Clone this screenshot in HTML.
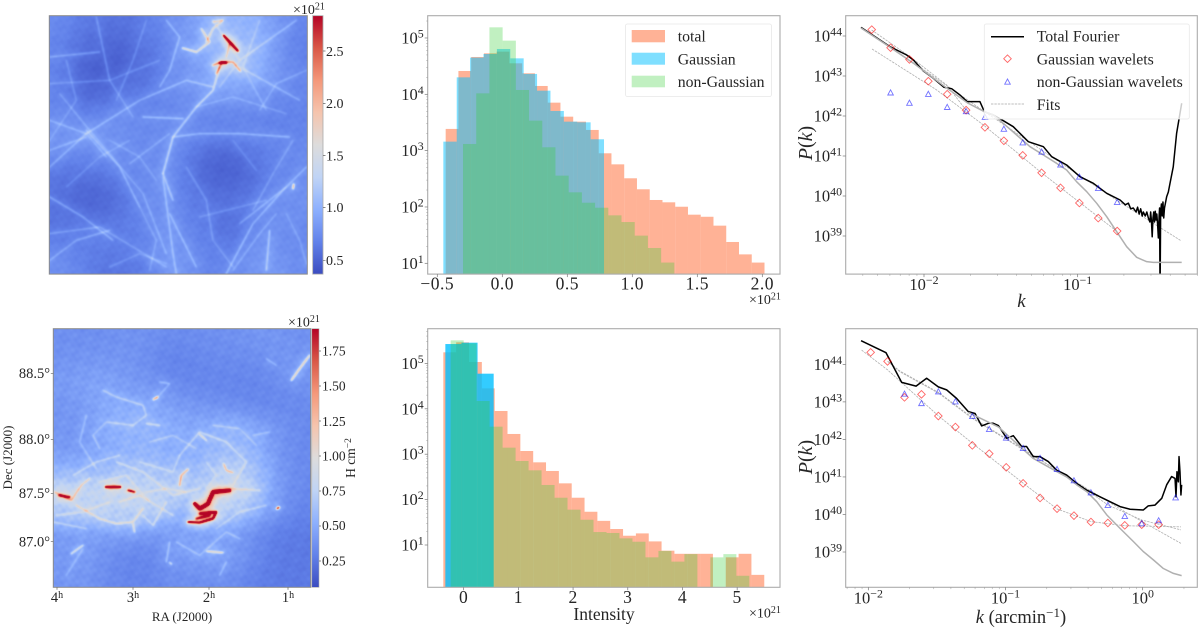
<!DOCTYPE html>
<html><head><meta charset="utf-8"><title>Column density maps, histograms and power spectra</title>
<style>
html,body{margin:0;padding:0;background:#fff;width:1200px;height:630px;overflow:hidden}
#stage{position:relative;width:1200px;height:630px}
canvas{position:absolute;display:block}
#chart{position:absolute;left:0;top:0}
text{font-family:"Liberation Serif",serif;fill:#262626}
</style></head>
<body>
<div id="stage">
<canvas id="mapTop" width="258" height="258" style="left:49.3px;top:15.7px;width:258px;height:258.4px"></canvas>
<canvas id="mapBot" width="258" height="258" style="left:53.3px;top:328.7px;width:257.4px;height:258.6px"></canvas>
<svg id="chart" width="1200" height="630" viewBox="0 0 1200 630" xmlns="http://www.w3.org/2000/svg">
<defs>
<linearGradient id="cw" x1="0" y1="1" x2="0" y2="0">
<stop offset="0" stop-color="#3b4cc0"/><stop offset=".125" stop-color="#6282ea"/><stop offset=".25" stop-color="#8db0fe"/><stop offset=".375" stop-color="#c0d4f5"/><stop offset=".5" stop-color="#dddcdc"/><stop offset=".625" stop-color="#f5c4ad"/><stop offset=".75" stop-color="#f4987a"/><stop offset=".875" stop-color="#d95847"/><stop offset="1" stop-color="#b40426"/>
</linearGradient>
<clipPath id="clipPkTop"><rect x="845.7" y="15.7" width="351.6" height="258.4"/></clipPath>
<clipPath id="clipPkBot"><rect x="845.7" y="328.7" width="351.6" height="258.6"/></clipPath>
</defs>
<rect x="49.3" y="15.7" width="258" height="258.4" fill="none" stroke="#8a8a8a" stroke-width="1"/>
<rect x="312.7" y="15.7" width="10.3" height="258.4" fill="url(#cw)" stroke="#aaa" stroke-width=".8"/>
<text x="293" y="14" font-size="14">×10<tspan dy="-4.5" font-size="10">21</tspan></text>
<g font-size="14">
<text x="326" y="265">0.5</text>
<text x="326" y="212">1.0</text>
<text x="326" y="160.5">1.5</text>
<text x="326" y="108">2.0</text>
<text x="326" y="56">2.5</text>
<path d="M323 260.3h2.5M323 207.5h2.5M323 155.5h2.5M323 103.5h2.5M323 51h2.5" stroke="#666" stroke-width=".7"/>
</g>
<rect x="53.3" y="328.7" width="257.4" height="258.6" fill="none" stroke="#8a8a8a" stroke-width="1"/>
<rect x="311.8" y="328.7" width="7.2" height="258.6" fill="url(#cw)" stroke="#aaa" stroke-width=".6"/>
<text x="288" y="326.5" font-size="14">×10<tspan dy="-4.5" font-size="10">21</tspan></text>
<g font-size="13.5">
<text x="322" y="565.5">0.25</text>
<text x="322" y="530">0.50</text>
<text x="322" y="495.5">0.75</text>
<text x="322" y="460.5">1.00</text>
<text x="322" y="426">1.25</text>
<text x="322" y="390.5">1.50</text>
<text x="322" y="355.5">1.75</text>
<path d="M319 561h2M319 526h2M319 491h2M319 456h2M319 421h2M319 386h2M319 351h2" stroke="#666" stroke-width=".7"/>
</g>
<text transform="translate(355,458) rotate(-90)" font-size="13.5" text-anchor="middle">H cm<tspan dy="-4" font-size="9.5">−2</tspan></text>
<g font-size="14.5">
<text x="50" y="378" text-anchor="end">88.5°</text>
<text x="50" y="444" text-anchor="end">88.0°</text>
<text x="50" y="498" text-anchor="end">87.5°</text>
<text x="50" y="546.5" text-anchor="end">87.0°</text>
<text x="57" y="602" text-anchor="middle">4<tspan dy="-4" font-size="10">h</tspan></text>
<text x="133" y="602" text-anchor="middle">3<tspan dy="-4" font-size="10">h</tspan></text>
<text x="209" y="602" text-anchor="middle">2<tspan dy="-4" font-size="10">h</tspan></text>
<text x="288" y="602" text-anchor="middle">1<tspan dy="-4" font-size="10">h</tspan></text>
<path d="M53.3 373.3h-2.5M53.3 439.3h-2.5M53.3 493.3h-2.5M53.3 541.7h-2.5M57 587.3v2.5M133 587.3v2.5M209 587.3v2.5M288 587.3v2.5" stroke="#666" stroke-width=".7"/>
</g>
<text x="182" y="621" font-size="13" text-anchor="middle">RA (J2000)</text>
<text transform="translate(12,457.5) rotate(-90)" font-size="13" text-anchor="middle">Dec (J2000)</text>
<g id="plots"></g>
</svg>
</div>
<script>
// ---------- Histogram data (counts per bin; bins given by start and width, units of 1e21) ----------
const topTotalStart = -0.4356;
const topTotalWidth = 0.0981;
const topTotalCounts = [2430,25950,46000,53400,57200,35500,23600,14060,7110,4010,3270,2330,897,571,323,206,133,121,101,73,67,46.6,23.9,14.4,10.3];
const topGaussStart = -0.4536;
const topGaussWidth = 0.103;
const topGaussCounts = [1445,20000,44800,52000,63800,43500,23000,11600,5060,3270,3180,1590];
const topNonGaussStart = -0.3022;
const topNonGaussWidth = 0.1016;
const topNonGaussCounts = [1313,10400,154600,89700,11940,3410,1146,360,182,119,97,71,54,31,18.7,10.3];
const botTotalStart = -0.372;
const botTotalWidth = 0.2347;
const botTotalCounts = [175400,291000,107400,28200,8950,2790,1176,662,427,228,110,54,34,22.5,16,18,12,7.5,6.4,6.4,6.4,0,5.35,6.4,2.2];
const botGaussStart = -0.335;
const botGaussWidth = 0.2945;
const botGaussCounts = [267000,286000,59400];
const botNonGaussStart = -0.2377;
const botNonGaussWidth = 0.2374;
const botNonGaussCounts = [322000,277000,14850,4040,1393,708,441,210,110,60,36,19.3,18.4,14,11.8,5.35,7.4,4.3,6.3,0,5.35,6.3,2.1];
const histTopXTicks = [-0.5,0,0.5,1,1.5,2];
const histTopXLabels = ['−0.5','0.0','0.5','1.0','1.5','2.0'];
const histTopYExps = [1,2,3,4,5];
const histBotXTicks = [0,1,2,3,4,5];
const histBotXLabels = ['0','1','2','3','4','5'];
const histBotYExps = [1,2,3,4,5];

// ---------- Power spectrum data ----------
const pkTopWaveK = [0.00457,0.00606,0.00804,0.01067,0.01416,0.01879,0.02493,0.03309,0.04391,0.05826,0.07732,0.1026,0.1361,0.1807];
const pkTopGauss = [1.44e44,5.1e43,2.6e43,7.4e42,3.5e42,1.4e42,5.2e41,2.4e41,1.04e41,3.8e40,1.6e40,6.7e39,2.8e39,1.33e39];
const pkTopNonGaussK = [0.00606,0.00804,0.01067,0.01416,0.01879,0.02493,0.03309,0.04391,0.05826,0.07732,0.1026,0.1361,0.1807];
const pkTopNonGauss = [3.8e42,2.1e42,3.5e42,1.65e42,1.3e42,9.3e41,4.7e41,2.15e41,1.26e41,6e40,3e40,1.55e40,6.95e39];
const pkTopFourierLogK = [-2.41,-2.221,-2.113,-2.069,-2.004,-1.939,-1.87,-1.82,-1.766,-1.718,-1.636,-1.607,-1.549,-1.484,-1.419,-1.321,-1.289,-1.223,-1.169,-1.072,-0.985,-0.898,-0.811,-0.724,-0.69,-0.67,-0.655,-0.638,-0.62,-0.61,-0.6,-0.59,-0.58,-0.573,-0.56,-0.55,-0.54,-0.53,-0.525,-0.52,-0.515,-0.51,-0.505,-0.5,-0.495,-0.49,-0.485,-0.48,-0.475,-0.47,-0.467,-0.464,-0.46,-0.455,-0.45,-0.445,-0.44,-0.435,-0.43,-0.421,-0.41,-0.40,-0.378,-0.356,-0.334,-0.323];
const pkTopFourierLogP = [44.217,43.733,43.525,43.4,43.125,42.942,42.717,42.683,42.525,42.358,42.358,42.108,42.025,41.883,41.733,41.358,41.317,41.233,40.983,40.775,40.483,40.317,40.067,39.9,39.78,39.82,39.68,39.7,39.6,39.72,39.55,39.68,39.5,39.6,39.5,39.6,39.45,39.35,39.6,39.38,38.98,39.45,39.6,39.35,39.62,39.4,39.55,39.3,38.95,39.5,39.7,37.5,39.6,39.8,39.5,39.85,39.45,39.7,39.8,39.98,40.1,40.3,40.73,41.57,42.07,42.32];
const pkTopGrayLogK = [-2.41,-2.221,-2.069,-1.87,-1.718,-1.607,-1.549,-1.484,-1.397,-1.31,-1.223,-1.137,-1.072,-1.007,-0.941,-0.876,-0.811,-0.746,-0.681,-0.616,-0.551,-0.508,-0.323];
const pkTopGrayLogP = [44.2,43.72,43.32,42.75,42.33,42.108,42.025,41.817,41.525,41.233,41.025,40.817,40.65,40.358,40.108,39.817,39.483,39.108,38.733,38.467,38.358,38.342,38.342];
const pkTopFitALogK = [-2.338,-1.92,-1.605,-1.236,-0.748];
const pkTopFitALogP = [43.675,42.658,41.75,40.583,39.125];
const pkTopFitBLogK = [-2.221,-1.874,-1.605,-1.236,-0.748,-0.328];
const pkTopFitBLogP = [43.733,42.817,42.108,41.15,39.9,38.883];
const pkTopFitCLogK = [-2.341,-2.091,-1.852,-1.727];
const pkTopFitCLogP = [44.15,43.483,42.775,42.15];

const pkBotWaveK = [0.0104,0.0138,0.01835,0.0244,0.0324,0.0431,0.0573,0.0761,0.1012,0.1344,0.1787,0.2375,0.3156,0.4194,0.5574,0.7407,0.9844,1.308];
const pkBotGauss = [2.09e44,1.2e44,1.32e43,1.59e43,4.2e42,2.14e42,6.95e41,4.17e41,1.8e41,6.75e40,2.75e40,1.43e40,9.3e39,6.3e39,5.93e39,5.13e39,5.35e39,5.35e39];
const pkBotNonGaussK = [0.01835,0.0244,0.0324,0.0431,0.0573,0.0761,0.1012,0.1344,0.1787,0.2375,0.3156,0.4194,0.5574,0.7407,0.9844,1.308,1.738];
const pkBotNonGauss = [1.62e43,9.1e42,1.87e43,1.01e43,4.12e42,1.85e42,1.09e42,5.78e41,3.13e41,1.59e41,7.96e40,3.81e40,1.75e40,8.9e39,5.7e39,6.84e39,2.8e40];
const pkBotFourierLogK = [-2.053,-1.871,-1.757,-1.652,-1.575,-1.49,-1.429,-1.356,-1.271,-1.222,-1.174,-1.125,-1.089,-1.052,-0.991,-0.943,-0.882,-0.846,-0.797,-0.748,-0.688,-0.627,-0.554,-0.481,-0.408,-0.311,-0.238,-0.165,-0.092,0.005,0.041,0.09,0.139,0.175,0.211,0.236,0.243,0.25,0.26,0.265,0.272,0.279,0.284];
const pkBotFourierLogP = [44.63,44.31,43.52,43.42,43.63,43.4,43.32,43.09,42.74,42.69,42.36,42.43,42.43,42.37,42.03,42.1,41.81,41.81,41.54,41.54,41.41,41.18,41.05,40.83,40.65,40.47,40.34,40.21,40.14,40.12,40.23,40.25,40.43,40.79,41.01,40.96,40.47,41.14,40.87,41.54,41.14,40.52,40.79];
const pkBotGrayLogK = [-1.271,-1.05,-0.8,-0.63,-0.554,-0.481,-0.408,-0.335,-0.262,-0.165,-0.068,0.005,0.078,0.151,0.224,0.284];
const pkBotGrayLogP = [42.72,42.33,41.5,41.15,41.0,40.79,40.61,40.34,39.99,39.63,39.28,39.01,38.79,38.56,38.43,38.37];
const pkBotFitGLogK = [-2.049,-1.859,-1.487,-1.242,-0.87,-0.625,-0.377,-0.129,0.279];
const pkBotFitGLogP = [44.38,43.85,42.62,41.9,40.83,40.15,39.81,39.7,39.67];
const pkBotFitN1LogK = [-1.859,-1.769,-1.487,-1.242,-0.87,-0.5,-0.129,0.279];
const pkBotFitN1LogP = [44.08,43.8,43.23,42.56,41.72,40.9,40.07,39.23];
const pkBotFitN2LogK = [-1.859,-1.769,-1.487,-1.242,-0.87,-0.5,-0.253,-0.005,0.279];
const pkBotFitN2LogP = [44.08,43.82,43.25,42.58,41.74,40.9,40.25,39.85,39.59];
const pkTopXExps = [-2,-1];
const pkBotXExps = [-2,-1,0];
const pkYExps = [39,40,41,42,43,44];

// ---------- Map data: coarse intensity grids (1e21) and ridge traces (map units, 3 per map pixel) ----------
const mapTopGrid = [
[.75,.65,.60,.60,.65,.75,.85,1.0,1.05,1.0,.85,.70],
[.70,.55,.50,.50,.60,.70,.85,1.0,1.15,1.1,.85,.65],
[.70,.50,.45,.50,.55,.70,.85,.95,1.1,1.1,.85,.70],
[.70,.50,.50,.60,.65,.75,.80,.85,.90,.85,.75,.70],
[.75,.65,.70,.80,.70,.70,.75,.70,.70,.70,.65,.70],
[.80,.85,.85,.75,.75,.75,.75,.70,.70,.75,.70,.70],
[.75,.70,.75,.75,.70,.80,.65,.50,.50,.60,.70,.75],
[.60,.55,.60,.70,.75,.80,.60,.50,.48,.55,.70,.75],
[.60,.50,.48,.60,.75,.80,.65,.60,.60,.65,.75,.80],
[.60,.60,.60,.65,.70,.80,.70,.60,.55,.65,.80,.75],
[.65,.65,.70,.65,.70,.80,.75,.65,.60,.75,.80,.70],
[.80,.70,.60,.60,.65,.85,.80,.70,.70,.85,.85,.75]];
const mapTopRidges = [
[.14,1,[[150,500],[260,400],[420,300],[560,240],[640,260]]],
[.14,1,[[260,390],[360,500],[420,620]]],
[.2,1.2,[[490,520],[520,410],[590,320],[640,270],[660,200]]],
[.18,1,[[490,520],[520,600]]],
[.15,1,[[150,590],[250,650],[340,720]]],
[.12,1,[[150,780],[230,720],[330,690]]],
[.16,1,[[430,350],[550,355]]],
[.14,1,[[520,410],[600,400],[720,400],[870,410]]],
[.16,1,[[680,820],[760,670],[850,570],[920,500]]],
[.18,1,[[800,810],[810,690]]],
[.14,1,[[490,530],[520,760],[530,820]]],
[.12,1,[[150,170],[300,155]]],
[.14,1,[[500,60],[540,110],[510,210],[480,260]]],
[.14,1,[[720,180],[890,60]]],
[.12,1,[[720,200],[900,300]]],
[.14,1,[[510,640],[590,800]]],
[.1,1,[[290,50],[330,240],[400,350]]],
[.1,1,[[150,450],[260,410]]],
[.1,1,[[390,490],[510,400]]],
[.14,1,[[720,670],[860,560]]],
[.1,1,[[180,280],[270,390],[430,580],[500,760]]],
[.1,1,[[660,260],[720,180],[640,60]]],
[.08,1,[[780,60],[730,200],[800,330]]],
[.1,1,[[150,700],[300,680],[500,800]]],
[.08,1,[[150,250],[330,240],[480,180]]],
[.08,1,[[440,60],[400,180],[350,300]]],
[.08,1,[[200,560],[300,470],[390,420]]],
[.08,1,[[330,420],[420,470],[470,540]]],
[.09,1,[[560,500],[620,600],[640,720],[700,800]]],
[.08,1,[[420,620],[470,720],[450,810]]],
[.08,1,[[600,650],[720,620],[800,600]]],
[.09,1,[[880,420],[820,520],[760,630]]],
[.09,1,[[780,330],[830,250],[920,210]]],
[.08,1,[[700,420],[770,510]]],
[.08,1,[[860,640],[900,720],[920,790]]],
[.1,1,[[700,810],[780,700],[830,640]]],
[.08,1,[[150,420],[230,300],[200,180]]],
[.08,1,[[590,320],[700,290],[860,340]]],
[.08,1,[[330,800],[420,760],[500,790]]],
[.1,1,[[150,360],[260,400],[320,470]]],
[1,1.3,[[672,105],[690,125],[715,152]]],
[1,1.5,[[660,187],[680,187]]],
[.5,1.1,[[640,195],[665,185],[700,185],[722,212]]],
[.4,1,[[605,85],[630,125],[590,155],[548,143]]],
[.32,1,[[640,65],[670,60],[640,85],[620,125]]],
[.3,1,[[690,130],[680,170]]],
[.4,1.2,[[650,220],[665,190]]],
[.5,1.2,[[882,552],[880,565]]]];
const mapBotGrid = [
[.36,.36,.36,.38,.38,.34,.36,.36,.38,.40,.40,.36],
[.38,.40,.40,.40,.34,.28,.31,.34,.34,.34,.40,.40],
[.43,.46,.48,.40,.40,.34,.31,.31,.31,.31,.36,.40],
[.38,.43,.50,.50,.48,.43,.40,.36,.33,.31,.31,.33],
[.40,.40,.53,.58,.56,.53,.48,.53,.56,.46,.40,.33],
[.40,.40,.48,.53,.53,.48,.48,.58,.60,.53,.38,.33],
[.52,.52,.58,.63,.65,.58,.56,.68,.68,.63,.40,.33],
[.85,.80,.80,.78,.75,.75,.72,.73,.90,.70,.40,.33],
[.65,.75,.78,.80,.75,.60,.55,.78,.73,.53,.38,.30],
[.40,.40,.42,.44,.38,.40,.45,.40,.38,.33,.26,.26],
[.40,.46,.36,.31,.31,.43,.46,.48,.46,.33,.26,.26],
[.40,.40,.34,.31,.31,.36,.34,.36,.34,.28,.26,.26]];
const mapBotRidges = [
[.95,2.4,[[585,565],[600,580],[625,565],[640,530],[690,525]]],
[.6,1.8,[[565,620],[600,622],[640,610],[650,590],[600,595]]],
[.38,2.5,[[590,610],[630,600]]],
[.9,1.5,[[318,515],[362,515]]],
[.6,1.5,[[385,525],[405,530]]],
[.5,1.8,[[178,540],[210,545]]],
[.34,1,[[165,530],[215,555],[245,510],[270,490]]],
[.26,1,[[230,570],[300,610],[350,625],[400,620],[430,580]]],
[.26,1,[[400,625],[405,650]]],
[.5,1.2,[[462,252],[474,245]]],
[.36,1.2,[[875,195],[900,160],[930,120]]],
[.9,1.3,[[832,580],[838,576]]],
[.36,1.2,[[540,510],[545,480],[565,462]]],
[.34,1,[[598,355],[620,375]]],
[.36,1,[[672,445],[680,465],[700,472]]],
[.38,1,[[622,708],[670,712]]],
[.28,1.1,[[215,715],[250,690]]],
[.35,1,[[510,742],[516,746]]],
[.14,1,[[310,225],[350,245],[430,270],[440,300],[400,330]]],
[.18,1,[[440,325],[480,330]]],
[.12,1,[[480,200],[510,205],[470,250]]],
[.14,1,[[350,440],[430,470],[520,540],[600,520]]],
[.18,1,[[430,600],[460,630],[500,560]]],
[.14,1,[[510,680],[500,740]]],
[.14,1,[[540,420],[600,350],[680,380],[740,440],[700,510]]],
[.18,1,[[690,520],[780,525]]],
[.12,1,[[530,680],[600,720],[680,650],[720,670]]],
[.12,1,[[300,400],[280,360],[320,320],[400,330]]],
[.12,1,[[680,740],[660,780]]],
[.12,1,[[800,130],[830,150]]],
[.1,1,[[760,360],[810,350]]],
[.14,1,[[360,560],[420,540],[520,600]]],
[.12,1,[[160,620],[260,640]]],
[.12,1,[[300,500],[380,480],[450,560]]],
[.12,1,[[220,480],[290,440],[360,420]]],
[.1,1,[[420,440],[520,470],[540,420]]],
[.12,1,[[440,530],[500,520],[560,530]]],
[.12,1,[[170,600],[250,590],[330,560]]],
[.1,1,[[620,440],[650,480],[620,520]]],
[.1,1,[[450,380],[520,360],[590,400]]],
[.1,1,[[650,640],[720,590],[800,570]]],
[.1,1,[[260,300],[240,380],[290,460]]],
[.09,1,[[200,780],[250,700]]],
[.1,1,[[640,330],[720,340],[770,390]]]];

// ---------- Colormap ----------
const cwStops = [[59,76,192],[98,130,234],[141,176,254],[192,212,245],[221,220,220],[245,196,173],[244,152,122],[217,88,71],[180,4,38]];
function coolwarm(t){
  t = Math.max(0,Math.min(1,t))*8;
  const i = Math.min(7,Math.floor(t)), f = t-i, a = cwStops[i], b = cwStops[i+1];
  return [a[0]+(b[0]-a[0])*f,a[1]+(b[1]-a[1])*f,a[2]+(b[2]-a[2])*f];
}
function gaussBlur(src,W,H,sigma){
  const rad = Math.ceil(sigma*3), ker = [];
  let tot = 0;
  for(let i=-rad;i<=rad;i++){ const w = Math.exp(-i*i/(2*sigma*sigma)); ker.push(w); tot += w; }
  const tmp = new Float32Array(W*H), out = new Float32Array(W*H);
  for(let y=0;y<H;y++) for(let x=0;x<W;x++){
    let s = 0;
    for(let i=-rad;i<=rad;i++){ const xx = Math.max(0,Math.min(W-1,x+i)); s += src[y*W+xx]*ker[i+rad]; }
    tmp[y*W+x] = s/tot;
  }
  for(let y=0;y<H;y++) for(let x=0;x<W;x++){
    let s = 0;
    for(let i=-rad;i<=rad;i++){ const yy = Math.max(0,Math.min(H-1,y+i)); s += tmp[yy*W+x]*ker[i+rad]; }
    out[y*W+x] = s/tot;
  }
  return out;
}
function renderMap(id,grid,ridges,ox,oy,vmin,vmax,gain,glow,texAmp){
  const cv = document.getElementById(id), W = cv.width, H = cv.height;
  const off = document.createElement('canvas'); off.width = W; off.height = H;
  const o = off.getContext('2d');
  o.fillStyle = '#000'; o.fillRect(0,0,W,H);
  o.globalCompositeOperation = 'lighter'; o.lineJoin = 'round'; o.lineCap = 'round';
  ridges.forEach(function(r){
    const c = Math.round(r[0]*255);
    o.strokeStyle = 'rgb('+c+','+c+','+c+')';
    o.lineWidth = r[1];
    o.beginPath();
    r[2].forEach(function(p,i){ const x=(p[0]-ox)/3, y=(p[1]-oy)/3; if(i) o.lineTo(x,y); else o.moveTo(x,y); });
    o.stroke();
  });
  const raw = o.getImageData(0,0,W,H).data, src = new Float32Array(W*H);
  for(let i=0;i<W*H;i++) src[i] = raw[i*4]/255;
  const fine = gaussBlur(src,W,H,.85), wide = gaussBlur(src,W,H,4.5);
  const ctx = cv.getContext('2d'), img = ctx.createImageData(W,H), n = grid.length, m = grid[0].length;
  const sigma = .62;
  for(let y=0;y<H;y++){
    const gy = (y+.5)/H*n-.5;
    for(let x=0;x<W;x++){
      const gx = (x+.5)/W*m-.5;
      let sum = 0, wt = 0;
      const i0 = Math.max(0,Math.floor(gy)-2), i1 = Math.min(n-1,Math.floor(gy)+3);
      const j0 = Math.max(0,Math.floor(gx)-2), j1 = Math.min(m-1,Math.floor(gx)+3);
      for(let i=i0;i<=i1;i++) for(let j=j0;j<=j1;j++){
        const d = (i-gy)*(i-gy)+(j-gx)*(j-gx), w = Math.exp(-d/(2*sigma*sigma));
        sum += w*grid[i][j]; wt += w;
      }
      const base = sum/wt;
      const tex = (Math.sin(x*.37+y*.11)+Math.sin(x*.13-y*.41+1)+Math.sin(x*.71+y*.53+2)+Math.sin(x*.23+y*.89+4)+Math.sin(x*.97-y*.67+3))/5;
      const q = y*W+x, k = q*4, v = base*(1+texAmp*tex)+(fine[q]+wide[q]*glow)*gain;
      const c = coolwarm((v-vmin)/(vmax-vmin));
      img.data[k]=c[0]; img.data[k+1]=c[1]; img.data[k+2]=c[2]; img.data[k+3]=255;
    }
  }
  ctx.putImageData(img,0,0);
}
renderMap('mapTop',mapTopGrid,mapTopRidges,148,47,0.37,2.845,3.6,1.2,.06);
renderMap('mapBot',mapBotGrid,mapBotRidges,160,41,0.062,1.907,3,.9,.12);

// ---------- SVG helpers ----------
const NS = 'http://www.w3.org/2000/svg';
const plots = document.getElementById('plots');
function mk(tag,attrs,parent){
  const e = document.createElementNS(NS,tag);
  for(const k in attrs) e.setAttribute(k,attrs[k]);
  (parent||plots).appendChild(e);
  return e;
}
function powerText(parent,x,y,anchor,exp,size){
  const t = mk('text',{x:x,y:y,'text-anchor':anchor,'font-size':size},parent);
  const a = mk('tspan',{},t); a.textContent = '10';
  const b = mk('tspan',{dy:-6,'font-size':size*0.72},t); b.textContent = String(exp).replace('-','−');
  return t;
}
function spines(g,x0,y0,x1,y1){
  const r = mk('rect',{x:x0,y:y0,width:x1-x0,height:y1-y0,fill:'none',stroke:'#ababab','stroke-width':1.1},g);
  
  
}

// ---------- Histograms ----------
function drawHist(cfg){
  const g = mk('g',{});
  
  
  const xs = v => cfg.x0 + v*cfg.xk;
  const ys = c => cfg.y0 - (Math.log10(c)-1)*cfg.yk;
  cfg.series.forEach(function(s){
    const sg = mk('g',{},g);
    
    
    s.counts.forEach(function(c,i){
      if(!(c>0)) return;
      const l = xs(s.start+i*s.width), r = xs(s.start+(i+1)*s.width), t = Math.max(cfg.top,ys(c));
      if(t>=cfg.bottom) return;
      const b = mk('rect',{x:l,y:t,width:r-l,height:cfg.bottom-t,fill:s.color,'fill-opacity':s.alpha},sg);
      
      
    });
  });
  spines(g,cfg.left,cfg.top,cfg.right,cfg.bottom);
  cfg.xticks.forEach(function(v,i){
    const px = xs(v);
    const tk = mk('line',{x1:px,x2:px,y1:cfg.bottom,y2:cfg.bottom+3,stroke:'#777','stroke-width':.7},g);
    
    
    const t = mk('text',{x:px,y:cfg.bottom+cfg.xLabelGap,'text-anchor':'middle','font-size':17.5,'letter-spacing':'.5'},g);
    t.textContent = cfg.xlabels[i];
    
    
  });
  cfg.yexps.forEach(function(ex){
    const py = ys(Math.pow(10,ex));
    const tk = mk('line',{x1:cfg.left-3,x2:cfg.left,y1:py,y2:py,stroke:'#777','stroke-width':.7},g);
    
    
    const t = powerText(g,cfg.left-4,py+5.5,'end',ex,16.5);
    
    
    for(let m=2;m<10;m++){
      const my = ys(m*Math.pow(10,ex));
      if(my<cfg.top) continue;
      const mt = mk('line',{x1:cfg.left-1.5,x2:cfg.left,y1:my,y2:my,stroke:'#999','stroke-width':.5},g);
      
      
    }
  });
  const off = mk('text',{x:749,y:cfg.bottom+30,'font-size':14},g);
  
  
  off.textContent = '×10';
  const sup = mk('tspan',{dy:-4.5,'font-size':10},off); sup.textContent = '21';
}
drawHist({name:'histogram-top',left:427.7,right:780,top:15.7,bottom:274.1,x0:502.3,xk:130,y0:263.3,yk:56.33,xLabelGap:15.5,
  xticks:histTopXTicks,xlabels:histTopXLabels,yexps:histTopYExps,
  series:[
    {key:'total',start:topTotalStart,width:topTotalWidth,counts:topTotalCounts,color:'#ff7f50',alpha:.6},
    {key:'gaussian',start:topGaussStart,width:topGaussWidth,counts:topGaussCounts,color:'#00bfff',alpha:.5},
    {key:'non-gaussian',start:topNonGaussStart,width:topNonGaussWidth,counts:topNonGaussCounts,color:'#32cd32',alpha:.3}]});
drawHist({name:'histogram-bottom',left:427.7,right:780,top:328.7,bottom:587.3,x0:463.67,xk:54.7,y0:545,yk:45.4,xLabelGap:15.5,
  xticks:histBotXTicks,xlabels:histBotXLabels,yexps:histBotYExps,
  series:[
    {key:'total',start:botTotalStart,width:botTotalWidth,counts:botTotalCounts,color:'#ff7f50',alpha:.6},
    {key:'gaussian',start:botGaussStart,width:botGaussWidth,counts:botGaussCounts,color:'#00bfff',alpha:.8},
    {key:'non-gaussian',start:botNonGaussStart,width:botNonGaussWidth,counts:botNonGaussCounts,color:'#32cd32',alpha:.3}]});

// ---------- Power spectra ----------
function linePath(xf,yf,lk,lp){
  return lk.map(function(v,i){ return (i?'L':'M')+xf(v).toFixed(2)+' '+yf(lp[i]).toFixed(2); }).join('');
}
function diamond(g,x,y){
  const d = mk('path',{d:'M'+x+' '+(y-3.8)+'L'+(x+3.8)+' '+y+'L'+x+' '+(y+3.8)+'L'+(x-3.8)+' '+y+'Z',fill:'none',stroke:'#ff0000','stroke-opacity':.6,'stroke-width':.9},g);
  
  
}
function triangle(g,x,y){
  const d = mk('path',{d:'M'+x+' '+(y-3)+'L'+(x+2.8)+' '+(y+2.2)+'L'+(x-2.8)+' '+(y+2.2)+'Z',fill:'none',stroke:'#0000ff','stroke-opacity':.55,'stroke-width':.9},g);
  
  
}
function drawPk(cfg){
  const g = mk('g',{});
  
  
  const xs = lk => cfg.x0 + (lk+2)*cfg.xk;
  const ys = lp => cfg.y0 - (lp-39)*cfg.yk;
  const clip = mk('g',{'clip-path':'url(#'+cfg.clip+')'},g);
  cfg.fits.forEach(function(f){
    const p = mk('path',{d:linePath(xs,ys,f[0],f[1]),fill:'none',stroke:'#b0b0b0','stroke-width':.8,'stroke-dasharray':'2.4 1'},clip);
    
    
  });
  const fl = mk('path',{d:linePath(xs,ys,cfg.fourierK,cfg.fourierP),fill:'none',stroke:'#000','stroke-width':1.5,'stroke-linejoin':'round'},clip);
  
  
  const gl = mk('path',{d:linePath(xs,ys,cfg.grayK,cfg.grayP),fill:'none',stroke:'#b0b0b0','stroke-width':1.5,'stroke-linejoin':'round'},clip);
  
  
  cfg.gaussK.forEach(function(k,i){ diamond(clip,xs(Math.log10(k)),ys(Math.log10(cfg.gauss[i]))); });
  cfg.nonK.forEach(function(k,i){ triangle(clip,xs(Math.log10(k)),ys(Math.log10(cfg.non[i]))); });
  spines(g,845.7,cfg.top,1197.3,cfg.bottom);
  cfg.xexps.forEach(function(ex){
    const px = xs(ex);
    const tk = mk('line',{x1:px,x2:px,y1:cfg.bottom,y2:cfg.bottom+3,stroke:'#777','stroke-width':.7},g);
    
    
    const t = powerText(g,px,cfg.bottom+cfg.xLabelGap,'middle',ex,16.5);
    
    
  });
  for(let e=-3;e<=0;e++){
    for(let m=2;m<10;m++){
      const px = xs(e+Math.log10(m));
      if(px<845.7||px>1197.3) continue;
      const mt = mk('line',{x1:px,x2:px,y1:cfg.bottom,y2:cfg.bottom+1.8,stroke:'#999','stroke-width':.5},g);
      
      
    }
  }
  pkYExps.forEach(function(ex){
    const py = ys(ex);
    const tk = mk('line',{x1:842.7,x2:845.7,y1:py,y2:py,stroke:'#777','stroke-width':.7},g);
    
    
    const t = powerText(g,842,py+5.5,'end',ex,16.5);
    
    
  });
  const yl = mk('text',{transform:'translate(812,'+cfg.yLabelY+') rotate(-90)','text-anchor':'middle','font-size':20},g);
  
  
  const a = mk('tspan',{'font-style':'italic'},yl); a.textContent='P';
  const b = mk('tspan',{},yl); b.textContent='(';
  const c = mk('tspan',{'font-style':'italic'},yl); c.textContent='k';
  const d = mk('tspan',{},yl); d.textContent=')';
}
drawPk({name:'power-spectrum-top',clip:'clipPkTop',top:15.7,bottom:274.1,x0:924,xk:153.67,y0:236,yk:40,xLabelGap:16,yLabelY:143,xexps:pkTopXExps,
  fourierK:pkTopFourierLogK,fourierP:pkTopFourierLogP,grayK:pkTopGrayLogK,grayP:pkTopGrayLogP,
  gaussK:pkTopWaveK,gauss:pkTopGauss,nonK:pkTopNonGaussK,non:pkTopNonGauss,
  fits:[[pkTopFitALogK,pkTopFitALogP],[pkTopFitBLogK,pkTopFitBLogP],[pkTopFitCLogK,pkTopFitCLogP]]});
drawPk({name:'power-spectrum-bottom',clip:'clipPkBot',top:328.7,bottom:587.3,x0:868.33,xk:137.17,y0:552,yk:37.53,xLabelGap:16,yLabelY:457,xexps:pkBotXExps,
  fourierK:pkBotFourierLogK,fourierP:pkBotFourierLogP,grayK:pkBotGrayLogK,grayP:pkBotGrayLogP,
  gaussK:pkBotWaveK,gauss:pkBotGauss,nonK:pkBotNonGaussK,non:pkBotNonGauss,
  fits:[[pkBotFitGLogK,pkBotFitGLogP],[pkBotFitN1LogK,pkBotFitN1LogP],[pkBotFitN2LogK,pkBotFitN2LogP]]});
</script>
<svg width="1200" height="630" viewBox="0 0 1200 630" xmlns="http://www.w3.org/2000/svg" style="position:absolute;left:0;top:0">
<text x="604" y="620" font-size="17.5" text-anchor="middle">Intensity</text>
<text x="1021.5" y="307" font-size="19" font-style="italic" text-anchor="middle">k</text>
<text x="1021" y="623" font-size="18.5" text-anchor="middle"><tspan font-style="italic">k</tspan> (arcmin<tspan dy="-6" font-size="13">−1</tspan><tspan dy="6">)</tspan></text>
<g>
<rect x="625.5" y="24" width="146" height="72.5" rx="2" fill="#fff" fill-opacity=".8" stroke="#e8e8e8" stroke-width=".8"/>
<rect x="631.7" y="30" width="33.3" height="12.3" fill="#ff7f50" fill-opacity=".6"/>
<rect x="631.7" y="52.7" width="33.3" height="12" fill="#00bfff" fill-opacity=".5"/>
<rect x="631.7" y="75.7" width="33.3" height="11.6" fill="#32cd32" fill-opacity=".3"/>
<text x="677.7" y="41.5" font-size="15.8">total</text>
<text x="677.7" y="64.5" font-size="15.8">Gaussian</text>
<text x="677.7" y="87" font-size="15.8">non-Gaussian</text>
</g>
<g>
<rect x="984.3" y="24" width="205" height="95" rx="2" fill="#fff" fill-opacity=".8" stroke="#e8e8e8" stroke-width=".8"/>
<line x1="991" x2="1024" y1="36.7" y2="36.7" stroke="#000" stroke-width="1.5"/>
<path d="M1007.5 54.9L1011.3 58.7L1007.5 62.5L1003.7 58.7Z" fill="none" stroke="#ff0000" stroke-opacity=".6" stroke-width=".9"/>
<path d="M1007.5 79L1010.3 84.2L1004.7 84.2Z" fill="none" stroke="#0000ff" stroke-opacity=".55" stroke-width=".9"/>
<line x1="991" x2="1024" y1="104" y2="104" stroke="#a8a8a8" stroke-width=".8" stroke-dasharray="2.4 1"/>
<text x="1036.7" y="41.5" font-size="15.8">Total Fourier</text>
<text x="1036.7" y="64.5" font-size="15.8">Gaussian wavelets</text>
<text x="1036.7" y="87" font-size="15.8">non-Gaussian wavelets</text>
<text x="1036.7" y="110" font-size="15.8">Fits</text>
</g>
</svg>
</body></html>
